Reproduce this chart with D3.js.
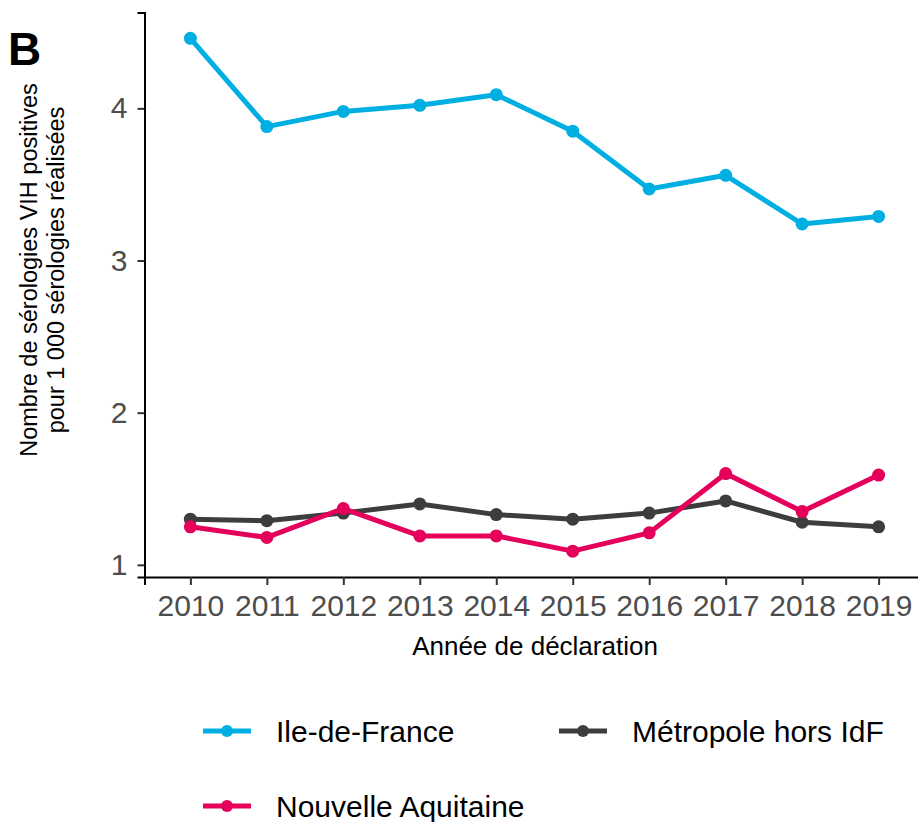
<!DOCTYPE html>
<html>
<head>
<meta charset="utf-8">
<script src="https://cdn.jsdelivr.net/npm/d3@7"></script>
<style>
  body { margin: 0; background: #fff; }
  #visualization { width: 918px; height: 822px; overflow: hidden; }
  text { font-family: "Liberation Sans", Arial, sans-serif; }
</style>
</head>
<body>
<div id="visualization"></div>
<script>
const years = ['2010', '2011', '2012', '2013', '2014', '2015', '2016', '2017', '2018', '2019'];
const yTicks = [1, 2, 3, 4];

const idfValues = [4.46, 3.88, 3.98, 4.02, 4.09, 3.85, 3.47, 3.56, 3.24, 3.29];
const metroValues = [1.30, 1.29, 1.34, 1.40, 1.33, 1.30, 1.34, 1.42, 1.28, 1.25];
const naValues = [1.25, 1.18, 1.37, 1.19, 1.19, 1.09, 1.21, 1.60, 1.35, 1.59];

const seriesNames = ['Ile-de-France', 'Métropole hors IdF', 'Nouvelle Aquitaine'];
const seriesColors = ['#00afe1', '#3d3d3d', '#e4005b'];

const series = [
    { name: seriesNames[0], color: seriesColors[0], values: idfValues },
    { name: seriesNames[1], color: seriesColors[1], values: metroValues },
    { name: seriesNames[2], color: seriesColors[2], values: naValues }
];

const width = 918;
const height = 822;

const svg = d3.select('#visualization')
    .append('svg')
    .attr('width', width)
    .attr('height', height);

// discrete x like ggplot (0.6 step padding each side)
const x = d3.scalePoint()
    .domain(years)
    .range([144.5, 924.5])
    .padding(0.6);

const y = d3.scaleLinear()
    .domain([0.92, 4.63])
    .range([577, 12.5]);

// axes
const xAxis = svg.append('g')
    .attr('transform', 'translate(0,577)')
    .call(d3.axisBottom(x).tickSizeOuter(0).tickSize(8).tickPadding(10));

const yAxis = svg.append('g')
    .attr('transform', 'translate(144.5,0)')
    .call(d3.axisLeft(y).tickValues(yTicks).tickFormat(d3.format('d')).tickSizeOuter(0).tickSize(7).tickPadding(10));

[xAxis, yAxis].forEach(ax => {
    ax.select('.domain').attr('stroke', '#000').attr('stroke-width', 2);
    ax.selectAll('.tick line').attr('stroke', '#333').attr('stroke-width', 2);
    ax.selectAll('.tick text')
        .attr('fill', '#4d4d4d')
        .style('font-size', '30px')
        .style('font-family', '"Liberation Sans", Arial, sans-serif');
});

// axis titles
svg.append('text')
    .attr('x', 535)
    .attr('y', 655)
    .attr('text-anchor', 'middle')
    .style('font-size', '26px')
    .text('Année de déclaration');

const yTitle = svg.append('text')
    .attr('transform', 'translate(0,270) rotate(-90)')
    .attr('text-anchor', 'middle')
    .style('font-size', '23.5px');
yTitle.append('tspan').attr('x', 0).attr('y', 37).text('Nombre de sérologies VIH positives');
yTitle.append('tspan').attr('x', 0).attr('y', 64).text('pour 1 000 sérologies réalisées');

// panel tag
svg.append('text')
    .attr('x', 8)
    .attr('y', 65)
    .style('font-size', '46px')
    .style('font-weight', 'bold')
    .text('B');

// lines
const line = d3.line()
    .x((d, i) => x(years[i]))
    .y(d => y(d));

series.forEach(s => {
    svg.append('path')
        .datum(s.values)
        .attr('fill', 'none')
        .attr('stroke', s.color)
        .attr('stroke-width', 5)
        .attr('stroke-linejoin', 'round')
        .attr('d', line);

    svg.selectAll(null)
        .data(s.values)
        .enter()
        .append('circle')
        .attr('cx', (d, i) => x(years[i]))
        .attr('cy', d => y(d))
        .attr('r', 6.5)
        .style('fill', s.color);
});

// legend (2 columns)
const legendCols = [203, 559];
const legendRows = [731, 806];

const legend = svg.selectAll('.legend-item')
    .data(series)
    .enter()
    .append('g')
    .attr('class', 'legend-item')
    .attr('transform', (d, i) => `translate(${legendCols[i % 2]},${legendRows[Math.floor(i / 2)]})`);

legend.append('line')
    .attr('x1', 0)
    .attr('x2', 48)
    .attr('stroke', d => d.color)
    .attr('stroke-width', 5);

legend.append('circle')
    .attr('cx', 24)
    .attr('r', 6)
    .style('fill', d => d.color);

legend.append('text')
    .attr('x', 73)
    .attr('dy', '0.36em')
    .style('font-size', '30px')
    .text(d => d.name);
</script>
</body>
</html>
